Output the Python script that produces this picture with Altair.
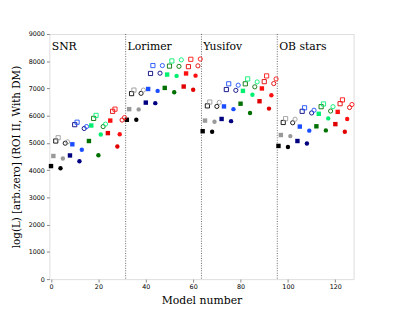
import altair as alt
import pandas as pd

# Log-luminance values per model, in model-number order (4 groups of 32)
snr = [4150, 4520, 5070, 5190, 4070, 4430, 4990, 5040,
       4540, 4950, 5670, 5760, 4330, 4750, 5530, 5600,
       5070, 5640, 5900, 6010, 4550, 5310, 5600, 5690,
       5360, 5820, 6160, 6240, 4870, 5320, 5840, 5930]
lorimer = [5850, 6240, 6810, 6940, 5850, 6230, 6820, 6940,
           6480, 6980, 7550, 7840, 6460, 6910, 7560, 7840,
           7020, 7510, 7820, 8010, 6860, 7460, 7810, 8050,
           7070, 7550, 7800, 8070, 6950, 7470, 7830, 8080]
yusifov = [5430, 5820, 6360, 6500, 5410, 5780, 6340, 6490,
           5880, 6340, 6960, 7170, 5800, 6240, 6930, 7120,
           6440, 6910, 7170, 7350, 6100, 6770, 7060, 7240,
           6530, 7000, 7250, 7460, 6260, 6750, 7180, 7350]
ob_stars = [4890, 5290, 5750, 5890, 4850, 5250, 5740, 5870,
            5070, 5600, 6160, 6290, 4980, 5450, 6100, 6200,
            5610, 6070, 6330, 6430, 5460, 5900, 6170, 6330,
            5690, 6140, 6440, 6580, 5410, 5880, 6300, 6410]

group_names = ["SNR", "Lorimer", "Yusifov", "OB stars"]
group_starts = [0, 32, 64, 96]
dividers = [31.5, 63.5, 95.5]
x_ticks = [0, 20, 40, 60, 80, 100, 120]
y_ticks = [0, 1000, 2000, 3000, 4000, 5000, 6000, 7000, 8000, 9000]

# marker cycle within each block of 8 models
cycle_shape = ["square", "square", "square", "square", "circle", "circle", "circle", "circle"]
cycle_filled = [True, True, False, False, True, True, False, False]
# colour pairs (dark, light) per block of 8 within a group
colour_pairs = [("#000000", "#999999"), ("#000080", "#1a4dff"),
                ("#007000", "#00f070"), ("#e00000", "#ff1010")]

values = snr + lorimer + yusifov + ob_stars
rows = []
for i, v in enumerate(values):
    k = i % 32
    block = k // 8
    j = k % 8
    rows.append({
        "model": i,
        "value": v,
        "shape": cycle_shape[j],
        "filled": cycle_filled[j],
        "colour": colour_pairs[block][j % 2],
    })
df = pd.DataFrame(rows)

xscale = alt.Scale(domain=[-0.7, 127.7], nice=False, zero=False)
yscale = alt.Scale(domain=[0, 9000], nice=False)

xaxis = alt.Axis(title="Model number", values=x_ticks, format="d", grid=False, domain=False,
                 tickSize=3, labelFontSize=6.5, labelFont="DejaVu Sans", labelPadding=2,
                 labelOverlap=False, titleFont="DejaVu Serif", titleFontSize=11,
                 titleFontWeight="normal", titlePadding=4, titleColor="black",
                 labelColor="black")
yaxis = alt.Axis(title="log(L) [arb.zero] (ROI II, With DM)", values=y_ticks, format="d",
                 grid=False, domain=False, tickSize=3, labelFontSize=6.5,
                 labelFont="DejaVu Sans", labelPadding=2, labelOverlap=False,
                 titleFont="DejaVu Serif", titleFontSize=10.5, titleFontWeight="normal",
                 titlePadding=7, titleColor="black", labelColor="black")

base = alt.Chart(df).encode(
    x=alt.X("model:Q", scale=xscale, axis=xaxis),
    y=alt.Y("value:Q", scale=yscale, axis=yaxis),
    shape=alt.Shape("shape:N", scale=None),
    color=alt.Color("colour:N", scale=None),
)

filled = base.transform_filter("datum.filled").mark_point(filled=True, size=20, opacity=1)
opened = base.transform_filter("!datum.filled").mark_point(filled=False, size=18,
                                                            strokeWidth=0.9, opacity=1)

div_df = pd.DataFrame({"x": dividers})
rules = alt.Chart(div_df).mark_rule(color="#555555", strokeDash=[1, 1.5], strokeWidth=0.9).encode(
    x=alt.X("x:Q", scale=xscale, axis=xaxis))

lab_df = pd.DataFrame({"x": [s + 0.3 for s in group_starts], "y": [8530] * 4, "t": group_names})
labels = alt.Chart(lab_df).mark_text(align="left", baseline="middle", font="DejaVu Serif",
                                      fontSize=11, color="black").encode(
    x=alt.X("x:Q", scale=xscale, axis=xaxis), y=alt.Y("y:Q", scale=yscale, axis=yaxis),
    text="t:N")

chart = alt.layer(rules, filled, opened, labels).properties(
    width=309, height=249,
    autosize=alt.AutoSizeParams(type="none"),
    padding={"left": 42, "top": 24, "right": 38, "bottom": 30},
).configure_view(stroke="black", strokeWidth=1).configure(background="white")

chart.save("out.html", embed_options={"renderer": "svg", "actions": False})
